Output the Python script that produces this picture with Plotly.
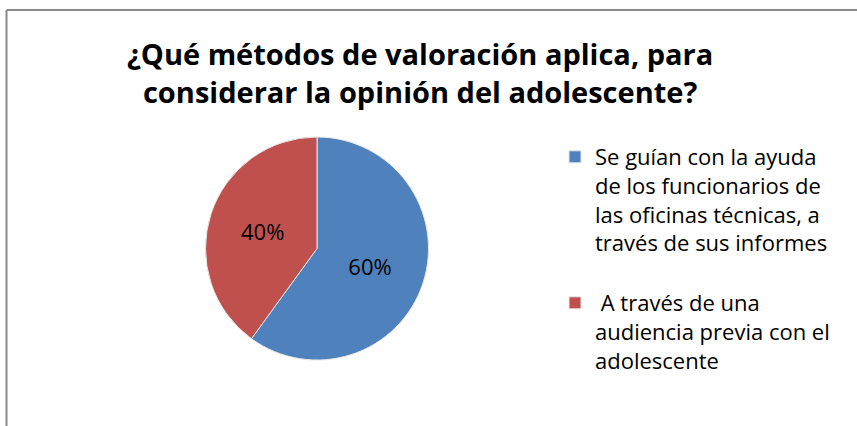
import plotly.graph_objects as go

labels = ["Se guían con la ayuda<br>de los funcionarios de<br>las oficinas técnicas, a<br>través de sus informes<br>",
          " A través de una<br>audiencia previa con el<br>adolescente"]
values = [60, 40]
colors = ["#4F81BD", "#C0504D"]
title_text = "¿Qué métodos de valoración aplica, para<br>considerar la opinión del adolescente?"

W, H = 857, 426
def px(x):
    return x / W
def py(y):
    return 1 - y / H

fig = go.Figure()
fig.add_trace(go.Pie(
    labels=labels, values=values, sort=False, direction="clockwise", rotation=0,
    marker=dict(colors=colors, line=dict(color="#E6E6E6", width=1)),
    textinfo="percent", texttemplate="%{percent:.0%}",
    textposition="inside", insidetextorientation="horizontal",
    textfont=dict(family="Open Sans", size=22, color="#000000"),
    domain=dict(x=[px(203), px(431)], y=[py(360), py(137)]),
    hoverinfo="label+percent",
))
fig.update_layout(
    width=W, height=H,
    margin=dict(l=0, r=0, t=0, b=0),
    paper_bgcolor="white", plot_bgcolor="white",
    showlegend=True,
    legend=dict(x=px(555), y=py(136), xanchor="left", yanchor="top",
                font=dict(family="Open Sans", size=22, color="#000000"),
                valign="top", itemwidth=30, tracegroupgap=0,
                bgcolor="rgba(0,0,0,0)"),
    annotations=[dict(text="<b>" + title_text + "</b>", x=px(420), y=py(72),
                      xref="paper", yref="paper", xanchor="center", yanchor="middle",
                      showarrow=False, align="center",
                      font=dict(family="Open Sans", size=29, color="#000000"))],
    shapes=[
        dict(type="line", xref="paper", yref="paper", x0=px(6.5), x1=1, y0=py(10), y1=py(10),
             line=dict(color="#898989", width=2)),
        dict(type="line", xref="paper", yref="paper", x0=px(6.5), x1=px(6.5), y0=0, y1=py(10),
             line=dict(color="#898989", width=2)),
    ],
)
fig.write_html("out.html", config={"displayModeBar": False},
               post_script="document.body.style.margin='0px';")
